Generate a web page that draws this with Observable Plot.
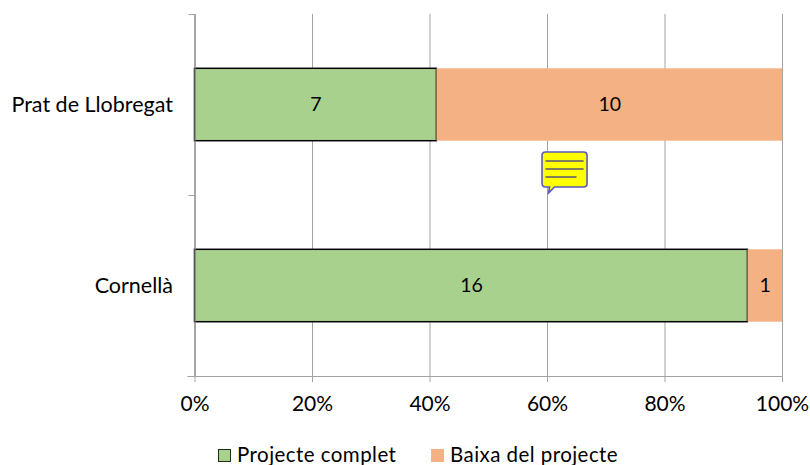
<!DOCTYPE html>
<html><head><meta charset="utf-8">
<script src="https://cdn.jsdelivr.net/npm/d3@7"></script>
<script src="https://cdn.jsdelivr.net/npm/@observablehq/plot@0.6"></script>
<style>
html,body{margin:0;padding:0;background:#fff;}
#legend{position:relative;height:29px;font-family:Lato,sans-serif;font-size:20.5px;letter-spacing:0.45px;color:#000;}
#legend span{position:absolute;white-space:nowrap;top:4px;line-height:29px;}
#legend i{position:absolute;box-sizing:border-box;width:13px;height:13px;top:13px;}
</style></head><body>
<div id="chart"></div>
<div id="legend"></div>
<script>
const categories = ["Cornellà", "Prat de Llobregat"];
const complete = [16, 7];
const dropped = [1, 10];
const seriesNames = ["Projecte complet", "Baixa del projecte"];
const colors = ["#a9d18e", "#f4b183"];
const xTicks = [0, 0.2, 0.4, 0.6, 0.8, 1];

const rows = categories.flatMap((c, i) => {
  const total = complete[i] + dropped[i];
  return [
    {cat: c, series: seriesNames[0], n: complete[i], x1: 0, x2: complete[i] / total, y1: i + 0.3, y2: i + 0.7},
    {cat: c, series: seriesNames[1], n: dropped[i], x1: complete[i] / total, x2: 1, y1: i + 0.3, y2: i + 0.7}
  ];
});

const bubble = "data:image/svg+xml," + encodeURIComponent(
 '<svg xmlns="http://www.w3.org/2000/svg" width="48" height="44" viewBox="0 0 48 44">' +
 '<path d="M5 1.5H43Q46.5 1.5 46.5 5V33Q46.5 36.5 43 36.5H14L8 42.5L9 36.5H5Q1.5 36.5 1.5 33V5Q1.5 1.5 5 1.5Z" fill="#ffff00" stroke="#5a5ab8" stroke-width="1.6"/>' +
 '<path d="M5 10.5H43M5 18.5H43M5 26.5H36" stroke="#55557a" stroke-width="1.4"/></svg>');

const gray = "#a3a3a3";
const chart = Plot.plot({
  width: 810, height: 436,
  marginLeft: 194.5, marginRight: 28, marginTop: 14, marginBottom: 60,
  style: {fontFamily: "Lato, sans-serif", fontSize: "20px", color: "#000", background: "#fff"},
  x: {domain: [0, 1]},
  y: {domain: [0, 2]},
  marks: [
    Plot.ruleX(xTicks, {stroke: gray, strokeWidth: 1}),
    Plot.rectX(rows, {x1: "x1", x2: "x2", y1: "y1", y2: "y2",
      fill: d => colors[seriesNames.indexOf(d.series)],
      stroke: d => d.series === seriesNames[0] ? "#000" : "none", strokeWidth: 1.5, inset: 0}),
    Plot.ruleX([0], {stroke: "#8c8c8c", strokeWidth: 1.2}),
    Plot.text(rows, {x: d => (d.x1 + d.x2) / 2, y: d => (d.y1 + d.y2) / 2, text: d => String(d.n), fontSize: 19.5, fill: "#000"}),
    Plot.ruleY([0], {stroke: gray, strokeWidth: 1, x1: -0.012, x2: 1}),
    Plot.axisX({ticks: xTicks, tickFormat: d3.format(".0%"), tickSize: 6, tickPadding: 14, stroke: gray, tickStrokeOpacity: 1, label: null, fontSize: 21, fill: "#000"}),
    Plot.axisY({ticks: [0, 1, 2], tickFormat: () => "", tickSize: 6, stroke: gray, label: null}),
    Plot.axisY({ticks: [0.5, 1.5], tickFormat: d => categories[Math.floor(d)], tickSize: 0, tickPadding: 22, label: null, fontSize: 21.5, fill: "#000", style: {letterSpacing: "0.45px"}}),
    Plot.image([{x: 0.629, y: 1.127}], {x: "x", y: "y", src: () => bubble, width: 48, height: 44})
  ]
});
document.getElementById("chart").appendChild(chart);
chart.style.display = "block";

const legend = document.getElementById("legend");
const pos = [[218, 237], [431, 450]];
seriesNames.forEach((s, i) => {
  const sw = document.createElement("i");
  sw.style.left = pos[i][0] + "px";
  sw.style.background = colors[i];
  if (i === 0) sw.style.border = "1.5px solid #1f2a14";
  legend.appendChild(sw);
  const t = document.createElement("span");
  t.style.left = pos[i][1] + "px";
  t.textContent = s;
  legend.appendChild(t);
});
</script>
</body></html>
